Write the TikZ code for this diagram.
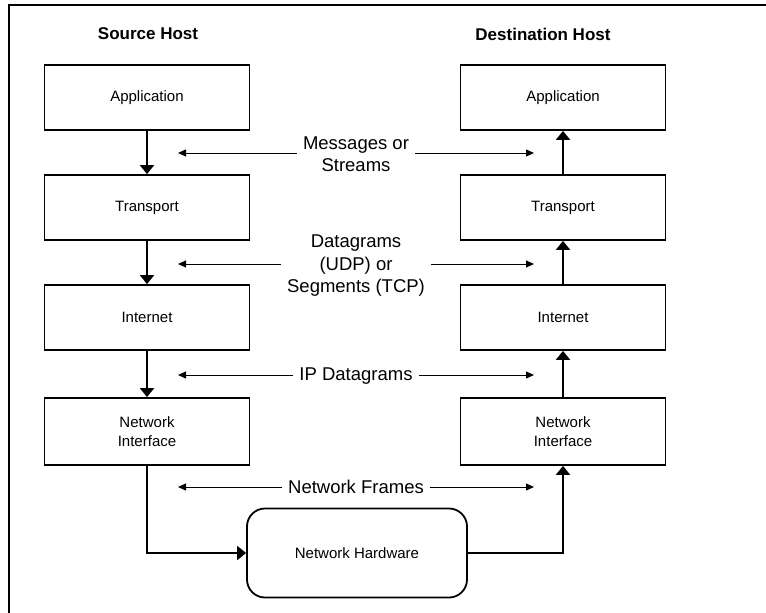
\documentclass[tikz,border=0pt]{standalone}
\usepackage{fontspec}
\setmainfont{Liberation Sans}
\usetikzlibrary{arrows.meta}
\begin{document}
\begin{tikzpicture}[x=1pt,y=-1pt,
  layer/.style={draw,line width=1.8pt,minimum width=205pt,minimum height=65pt,
    align=center,font=\fontsize{15}{19.5}\selectfont,inner sep=0pt},
  hosttitle/.style={font=\bfseries\fontsize{17}{20}\selectfont},
  flowlabel/.style={align=center,font=\fontsize{18.5}{22.5}\selectfont,inner sep=6pt},
  stack/.style={line width=2pt,-{Triangle[length=9pt,width=14pt]}},
  peer/.style={line width=0.9pt,-{Triangle[length=8pt,width=7pt]}}]
\useasboundingbox (0,0) rectangle (766,613);
% outer frame (left and top edges only)
\draw[line width=2pt] (9,613) -- (9,5) -- (766,5);

% titles
\node[hosttitle] (srcT) at (148,34) {Source Host};
\node[hosttitle] (dstT) at (543,34) {Destination Host};

% source host stack
\node[layer] (sApp) at (147,97.5) {Application};
\node[layer] (sTr)  at (147,207.5) {Transport};
\node[layer] (sIn)  at (147,317.5) {Internet};
\node[layer,minimum height=67pt] (sNI) at (147,431.5) {Network\\Interface};

% destination host stack
\node[layer] (dApp) at (563,97.5) {Application};
\node[layer] (dTr)  at (563,207.5) {Transport};
\node[layer] (dIn)  at (563,317.5) {Internet};
\node[layer,minimum height=67pt] (dNI) at (563,431.5) {Network\\Interface};

% shared medium
\node[draw,line width=1.8pt,rounded corners=18pt,minimum width=220pt,minimum height=89pt,
  font=\fontsize{15}{19.5}\selectfont] (hw) at (357,553) {Network Hardware};

% data going down the source stack
\draw[stack] (sApp) -- (sTr);
\draw[stack] (sTr) -- (sIn);
\draw[stack] (sIn) -- (sNI);
\draw[stack] (sNI.south) |- (hw.west);

% data going up the destination stack
\draw[stack] (dTr) -- (dApp);
\draw[stack] (dIn) -- (dTr);
\draw[stack] (dNI) -- (dIn);
\draw[stack] (hw.east) -| (dNI.south);

% peer-level units
\node[flowlabel] (m1) at (356,154) {Messages or\\Streams};
\node[flowlabel] (m2) at (356,266) {Datagrams\\(UDP) or\\Segments (TCP)};
\node[flowlabel] (m3) at (356,376) {IP Datagrams};
\node[flowlabel] (m4) at (356,487) {Network Frames};

\coordinate (l1) at (178,153);  \coordinate (r1) at (534,153);
\coordinate (l2) at (178,264);  \coordinate (r2) at (534,264);
\coordinate (l3) at (178,375);  \coordinate (r3) at (534,375);
\coordinate (l4) at (178,487);  \coordinate (r4) at (534,487);

\draw[peer] (m1.west |- l1) -- (l1);  \draw[peer] (m1.east |- r1) -- (r1);
\draw[peer] (m2.west |- l2) -- (l2);  \draw[peer] (m2.east |- r2) -- (r2);
\draw[peer] (m3.west |- l3) -- (l3);  \draw[peer] (m3.east |- r3) -- (r3);
\draw[peer] (m4.west |- l4) -- (l4);  \draw[peer] (m4.east |- r4) -- (r4);
\end{tikzpicture}
\end{document}
